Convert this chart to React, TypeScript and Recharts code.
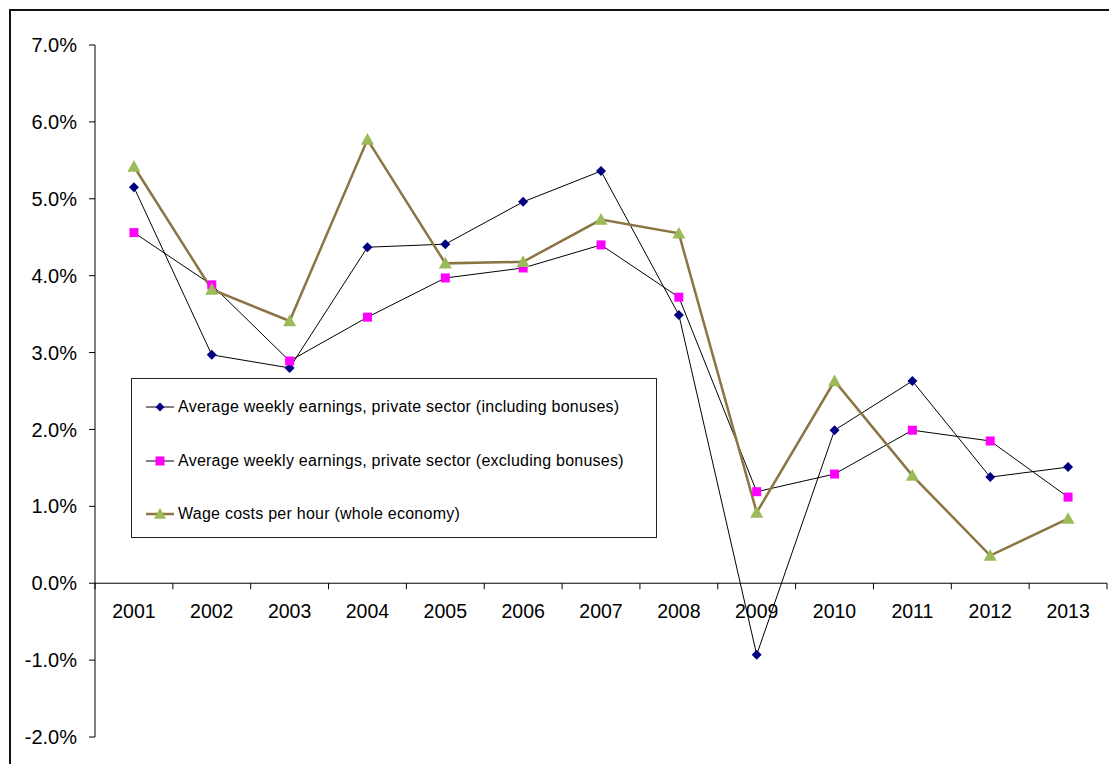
import { LineChart, Line, XAxis, YAxis, ReferenceLine } from 'recharts'

const years = ['2001', '2002', '2003', '2004', '2005', '2006', '2007', '2008', '2009', '2010', '2011', '2012', '2013']
const inclBonuses = [5.15, 2.97, 2.8, 4.37, 4.41, 4.96, 5.36, 3.49, -0.93, 1.99, 2.63, 1.38, 1.51]
const exclBonuses = [4.56, 3.88, 2.89, 3.46, 3.97, 4.1, 4.4, 3.72, 1.19, 1.42, 1.99, 1.85, 1.12]
const wageCosts = [5.42, 3.82, 3.41, 5.77, 4.16, 4.18, 4.73, 4.55, 0.92, 2.63, 1.4, 0.36, 0.84]
const yTicks = [-2, -1, 0, 1, 2, 3, 4, 5, 6, 7]

const W = 1109
const H = 764
const PLOT_LEFT = 95
const PLOT_RIGHT = 1107
const PLOT_TOP = 45
const PLOT_BOTTOM = 737
const Y_MIN = -2
const Y_MAX = 7
const ZERO_Y = PLOT_TOP + ((PLOT_BOTTOM - PLOT_TOP) * Y_MAX) / (Y_MAX - Y_MIN)
const BAND = (PLOT_RIGHT - PLOT_LEFT) / years.length
const FONT = '"Liberation Sans", Arial, sans-serif'

const data = years.map((year, i) => ({
  year,
  incl: inclBonuses[i],
  excl: exclBonuses[i],
  wage: wageCosts[i],
}))

const Diamond = ({ cx, cy, size = 5 }: any) => (
  <path d={`M${cx},${cy - size}L${cx + size},${cy}L${cx},${cy + size}L${cx - size},${cy}Z`} fill="#000080" />
)
const Square = ({ cx, cy, size = 4.5 }: any) => (
  <rect x={cx - size} y={cy - size} width={size * 2} height={size * 2} fill="#FF00FF" />
)
const Triangle = ({ cx, cy, size = 6.5 }: any) => (
  <path d={`M${cx},${cy - size}L${cx + size},${cy + size * 0.8}L${cx - size},${cy + size * 0.8}Z`} fill="#9BBB59" />
)

const series = [
  { key: 'incl', name: 'Average weekly earnings, private sector (including bonuses)', stroke: '#000000', width: 1, Marker: Diamond },
  { key: 'excl', name: 'Average weekly earnings, private sector (excluding bonuses)', stroke: '#000000', width: 1, Marker: Square },
  { key: 'wage', name: 'Wage costs per hour (whole economy)', stroke: '#8B7543', width: 2.5, Marker: Triangle },
]

function YearTick({ x, payload, index }: any) {
  const last = index === years.length - 1
  return (
    <g>
      <line x1={x - BAND / 2} x2={x - BAND / 2} y1={ZERO_Y} y2={ZERO_Y + 6} stroke="#000" />
      {last && <line x1={x + BAND / 2} x2={x + BAND / 2} y1={ZERO_Y} y2={ZERO_Y + 6} stroke="#000" />}
      <text x={x} y={ZERO_Y + 35} textAnchor="middle" fontSize={19.5} fontFamily={FONT} fill="#000">
        {payload.value}
      </text>
    </g>
  )
}

function LegendBox() {
  return (
    <div
      style={{
        position: 'absolute',
        left: 131,
        top: 378,
        width: 524,
        height: 158,
        border: '1px solid #222',
        background: '#fff',
        fontFamily: FONT,
        fontSize: 16,
      }}
    >
      {series.map((s, i) => (
        <div key={s.key} style={{ position: 'absolute', left: 13, top: 16 + i * 53.5, display: 'flex', alignItems: 'center', height: 24 }}>
          <svg width={33} height={20}>
            <line x1={1} x2={29} y1={10} y2={10} stroke={s.stroke} strokeWidth={s.width} />
            <s.Marker cx={15} cy={10} size={s.key === 'wage' ? 6 : 4.5} />
          </svg>
          <span style={{ color: '#000', whiteSpace: 'nowrap', letterSpacing: 0.25 }}>{s.name}</span>
        </div>
      ))}
    </div>
  )
}

export default function App() {
  return (
    <div style={{ position: 'absolute', left: 0, top: 0, width: W, height: H, overflow: 'hidden', background: '#fff' }}>
      <div style={{ position: 'absolute', left: 9, top: 9, width: 1300, height: 1000, border: '2px solid #111' }} />
      <div style={{ position: 'absolute', left: 0, top: 0 }}>
        <LineChart width={W} height={H} data={data} margin={{ top: PLOT_TOP, right: W - PLOT_RIGHT, bottom: 0, left: 0 }}>
          <XAxis
            dataKey="year"
            scale="band"
            height={H - PLOT_BOTTOM}
            axisLine={false}
            tickLine={false}
            interval={0}
            tick={<YearTick />}
          />
          <YAxis
            width={PLOT_LEFT}
            domain={[Y_MIN, Y_MAX]}
            ticks={yTicks}
            interval={0}
            tickFormatter={(v: number) => `${v.toFixed(1)}%`}
            tick={{ fontSize: 20, fill: '#000', fontFamily: FONT }}
            axisLine={{ stroke: '#000' }}
            tickLine={{ stroke: '#000' }}
            tickSize={6}
            tickMargin={12}
          />
          <ReferenceLine y={0} stroke="#000" />
          {series.map((s) => (
            <Line
              key={s.key}
              dataKey={s.key}
              name={s.name}
              stroke={s.stroke}
              strokeWidth={s.width}
              isAnimationActive={false}
              dot={(p: any) => <s.Marker key={`${s.key}-${p.index}`} cx={p.cx} cy={p.cy} />}
              activeDot={false}
            />
          ))}
        </LineChart>
      </div>
      <LegendBox />
    </div>
  )
}
